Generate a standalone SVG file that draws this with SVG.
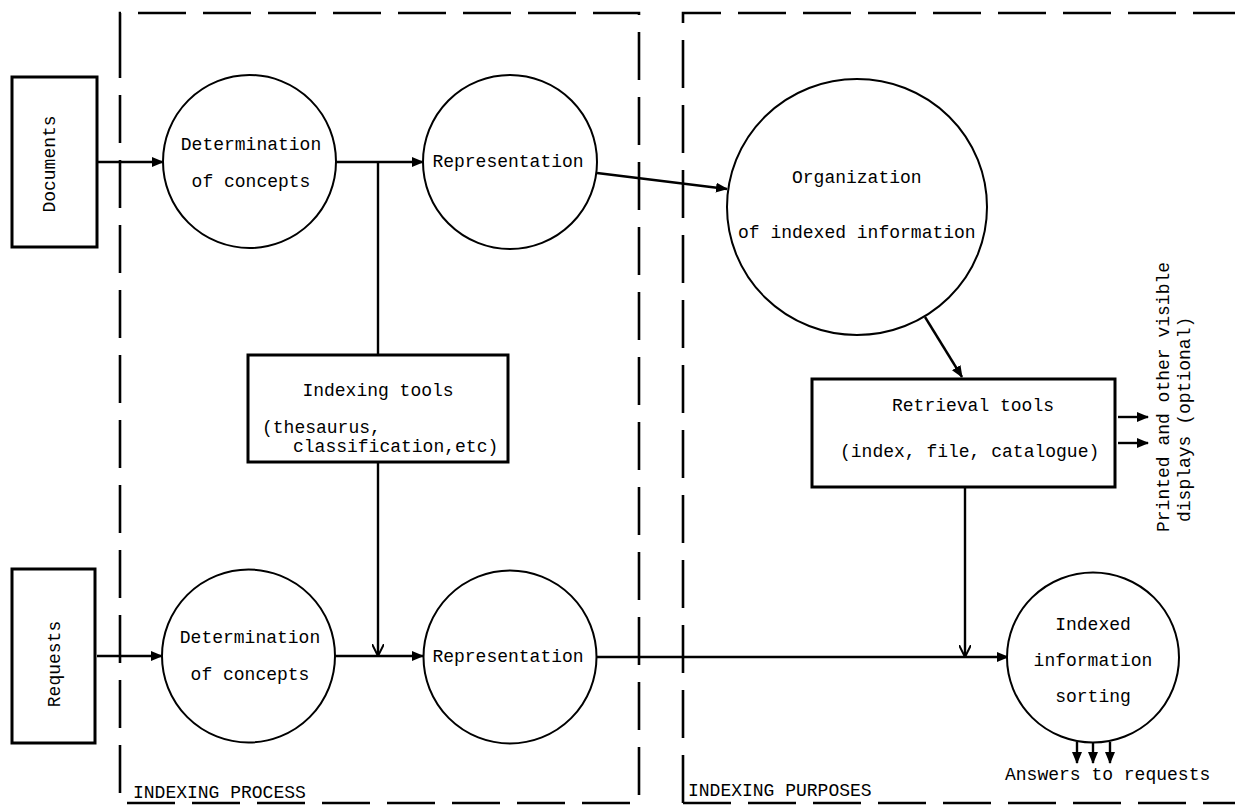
<svg xmlns="http://www.w3.org/2000/svg" width="1235" height="806" viewBox="0 0 1235 806">
<defs>
<style>
.bd{fill:none;stroke:#000;stroke-width:2.6;stroke-dasharray:48 17}
.nd{fill:#fff;stroke:#000;stroke-width:2}
.bx{fill:#fff;stroke:#000;stroke-width:3}
.cn{fill:none;stroke:#000;stroke-width:2.4}
.t{font-family:"Liberation Mono","Courier New",monospace;font-size:18px;fill:#000}
.m{text-anchor:middle}
</style>
<marker id="ah" viewBox="0 0 12 10" refX="11" refY="5" markerWidth="12" markerHeight="10" markerUnits="userSpaceOnUse" orient="auto">
<path d="M0,0 L12,5 L0,10 Z" fill="#000"/>
</marker>
<marker id="av" viewBox="0 0 12 12" refX="11" refY="6" markerWidth="12" markerHeight="12" markerUnits="userSpaceOnUse" orient="auto">
<path d="M0,0 L12,6 L0,12" fill="none" stroke="#000" stroke-width="2"/>
</marker>
</defs>
<rect width="1235" height="806" fill="#fff"/>

<g id="boundaries">
<path class="bd" d="M120,60 V13 H639 V803 H120 V60"/>
<path class="bd" d="M683,803 V13 H1235"/>
<path class="bd" d="M683,803 H1235"/>
<text class="t" x="133" y="798">INDEXING PROCESS</text>
<text class="t" x="688" y="796">INDEXING PURPOSES</text>
</g>

<g id="connectors">
<line class="cn" x1="97" y1="162" x2="163" y2="162" marker-end="url(#ah)"/>
<line class="cn" x1="336" y1="162" x2="423" y2="162" marker-end="url(#ah)"/>
<line class="cn" x1="378" y1="162" x2="378" y2="355"/>
<line class="cn" x1="597" y1="173" x2="727" y2="189" marker-end="url(#ah)"/>
<line class="cn" x1="925" y1="317" x2="962" y2="377" marker-end="url(#ah)"/>
<line class="cn" x1="1118" y1="417" x2="1148" y2="417" marker-end="url(#ah)"/>
<line class="cn" x1="1118" y1="443" x2="1148" y2="443" marker-end="url(#ah)"/>
<line class="cn" x1="97" y1="656" x2="162" y2="656" marker-end="url(#ah)"/>
<line class="cn" x1="335" y1="656" x2="423" y2="656" marker-end="url(#ah)"/>
<line class="cn" x1="378" y1="462" x2="378" y2="655" marker-end="url(#av)"/>
<line class="cn" x1="597" y1="657" x2="1008" y2="657" marker-end="url(#ah)"/>
<line class="cn" x1="965" y1="487" x2="965" y2="656" marker-end="url(#av)"/>
<line class="cn" x1="1077" y1="742" x2="1077" y2="763" marker-end="url(#ah)"/>
<line class="cn" x1="1093" y1="742" x2="1093" y2="763" marker-end="url(#ah)"/>
<line class="cn" x1="1110" y1="742" x2="1110" y2="763" marker-end="url(#ah)"/>
</g>

<g id="documents">
<rect class="bx" x="12" y="77" width="85" height="170"/>
<text class="t m" transform="translate(55,164) rotate(-90)">Documents</text>
</g>

<g id="requests">
<rect class="bx" x="12" y="569" width="83" height="174"/>
<text class="t m" transform="translate(60,664) rotate(-90)">Requests</text>
</g>

<g id="determination-doc">
<circle class="nd" cx="249.5" cy="161.5" r="86.5"/>
<text class="t m" x="251" y="150">Determination</text>
<text class="t m" x="251" y="187">of concepts</text>
</g>

<g id="representation-doc">
<circle class="nd" cx="510" cy="162" r="87"/>
<text class="t m" x="508" y="167">Representation</text>
</g>

<g id="determination-req">
<circle class="nd" cx="248.5" cy="656" r="86.5"/>
<text class="t m" x="250" y="643">Determination</text>
<text class="t m" x="250" y="680">of concepts</text>
</g>

<g id="representation-req">
<circle class="nd" cx="510" cy="657" r="86.5"/>
<text class="t m" x="508" y="662">Representation</text>
</g>

<g id="indexing-tools">
<rect class="bx" x="248" y="355" width="260" height="107"/>
<text class="t m" x="378" y="396">Indexing tools</text>
<text class="t" x="262" y="433">(thesaurus,</text>
<text class="t" x="293" y="452">classification,etc)</text>
</g>

<g id="organization">
<ellipse class="nd" cx="857" cy="207" rx="130" ry="128"/>
<text class="t" x="792" y="183">Organization</text>
<text class="t" x="738" y="238">of indexed information</text>
</g>

<g id="retrieval-tools">
<rect class="bx" x="812" y="379" width="303" height="108"/>
<text class="t m" x="973" y="411">Retrieval tools</text>
<text class="t" x="840" y="457">(index, file, catalogue)</text>
</g>

<g id="printed-displays">
<text class="t" transform="translate(1169,532) rotate(-90)">Printed and other visible</text>
<text class="t" transform="translate(1190,522) rotate(-90)">displays (optional)</text>
</g>

<g id="indexed-sorting">
<ellipse class="nd" cx="1093" cy="657.5" rx="86" ry="85"/>
<text class="t m" x="1093" y="630">Indexed</text>
<text class="t m" x="1093" y="666">information</text>
<text class="t m" x="1093" y="702">sorting</text>
</g>

<g id="answers">
<text class="t" x="1005" y="780">Answers to requests</text>
</g>
</svg>
